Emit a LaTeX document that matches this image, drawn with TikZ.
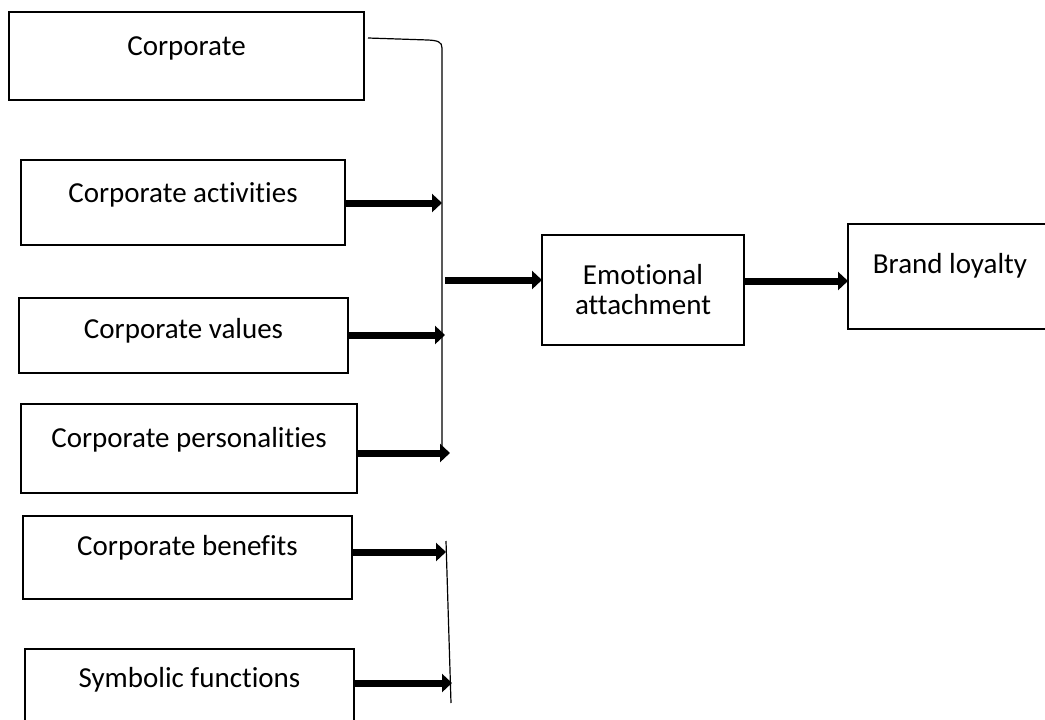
\documentclass[tikz,border=0pt]{standalone}
\usepackage{fontspec}
\setmainfont{Carlito}[Ligatures=NoCommon]
\usetikzlibrary{arrows.meta}
\begin{document}
\begin{tikzpicture}[x=1pt,y=-1pt,
  box/.style={draw, line width=1.8pt, inner sep=0pt, outer sep=0pt, anchor=north west,
    font=\fontsize{29pt}{30pt}\selectfont},
  arr/.style={line width=7pt, -{Triangle[length=10pt,width=18pt]}},
  thinline/.style={line width=1.2pt}]
% page area
\clip (0,0) rectangle (1045,720);
\fill[white] (0,0) rectangle (1045,720);

% source boxes (text sits near the top of each box)
\node[box, minimum width=355pt, text height=43pt, text depth=45pt] (b1) at (9,12) {Corporate};
\node[box, minimum width=324pt, text height=42pt, text depth=43pt] (b2) at (21,160) {Corporate activities};
\node[box, minimum width=329pt, text height=40pt, text depth=35pt] (b3) at (19,298) {Corporate values};
\node[box, minimum width=336pt, text height=43pt, text depth=46pt] (b4) at (21,404) {Corporate personalities};
\node[box, minimum width=329pt, text height=39pt, text depth=44pt] (b5) at (23,516) {Corporate benefits};
\node[box, minimum width=329pt, text height=38pt, text depth=52pt] (b6) at (25,649) {Symbolic functions};

% outcome boxes
\node[box, minimum width=202pt, minimum height=110pt, align=center] (emo) at (542,235) {Emotional\\attachment};
\node[box, minimum width=204pt, text height=49pt, text depth=56pt] (brand) at (848,224) {Brand loyalty};

% collecting lines
\coordinate (busTop) at (442,48);
\coordinate (busEnd) at (442,458);
\draw[thinline] ([xshift=4pt,yshift=18pt]b1.east) -- (428,40)
  .. controls (438,40.5) and (442,42) .. (busTop) -- (busEnd);
\coordinate (bus2Top) at (446,541);
\coordinate (bus2End) at (451,703);
\draw[thinline] (bus2Top) -- (bus2End);

% arrow tips on the collecting lines
\coordinate (t2) at (442,203);
\coordinate (t3) at (445,335);
\coordinate (t4) at (450,453);
\coordinate (t5) at (446,552);
\coordinate (t6) at (452,683);
\draw[arr] (b2.east |- t2) -- (t2);
\draw[arr] (b3.east |- t3) -- (t3);
\draw[arr] (b4.east |- t4) -- (t4);
\draw[arr] (b5.east |- t5) -- (t5);
\draw[arr] (b6.east |- t6) -- (t6);

% onward arrows
\coordinate (s0) at (445,280);
\draw[arr] (s0) -- (emo.west |- s0);
\coordinate (s1) at (744,281);
\draw[arr] (emo.east |- s1) -- (brand.west |- s1);
\end{tikzpicture}
\end{document}
